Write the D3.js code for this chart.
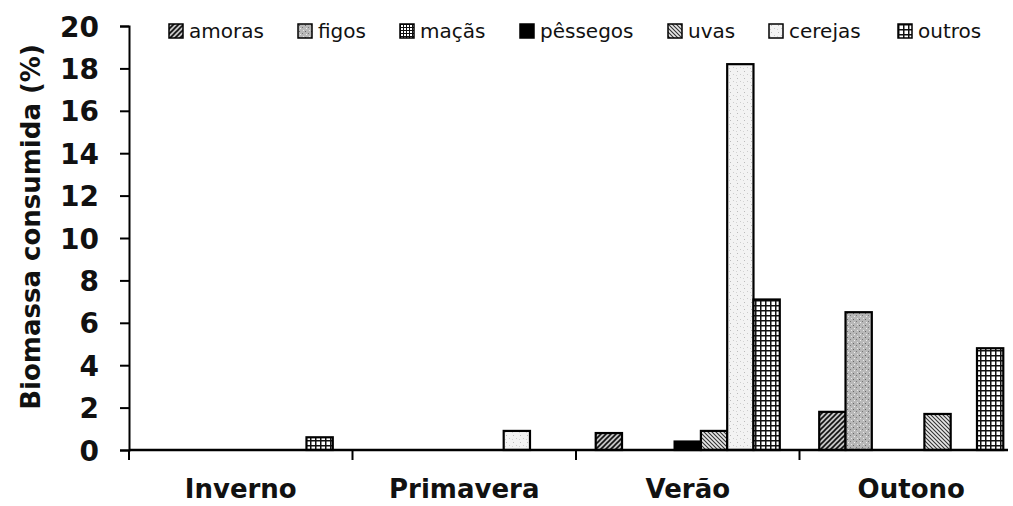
<!DOCTYPE html>
<html><head><meta charset="utf-8">
<script src="https://cdn.jsdelivr.net/npm/d3@7"></script>
<style>body{margin:0;background:#fff}svg{display:block}</style>
</head><body>
<svg id="c" width="1013" height="506"></svg>
<script>
const categories = ["Inverno","Primavera","Verão","Outono"];
const series = ["amoras","figos","maçãs","pêssegos","uvas","cerejas","outros"];
const amoras   = [0, 0, 0.8, 1.8];
const figos    = [0, 0, 0, 6.5];
const macas    = [0, 0, 0, 0];
const pessegos = [0, 0, 0.4, 0];
const uvas     = [0, 0, 0.9, 1.7];
const cerejas  = [0, 0.9, 18.2, 0];
const outros   = [0.6, 0, 7.1, 4.8];
const yTicks = [0,2,4,6,8,10,12,14,16,18,20];

const values = [amoras, figos, macas, pessegos, uvas, cerejas, outros];
const legendX = [169, 298, 400, 520, 668, 769, 898];

const svg = d3.select("#c");
const defs = svg.append("defs");

function pat(id, w, h, draw) {
  const p = defs.append("pattern").attr("id", id).attr("patternUnits","userSpaceOnUse")
    .attr("width", w).attr("height", h);
  draw(p);
}
// amoras: dark dashed diagonal
pat("p0", 5, 5, p => {
  p.append("rect").attr("width",5).attr("height",5).attr("fill","#c4c4c4");
  p.append("path").attr("d","M0,5 L5,0 M-1,1 L1,-1 M4,6 L6,4").attr("stroke","#111").attr("stroke-width",1.6);
});
// figos: grey speckle
pat("p1", 6, 6, p => {
  p.append("rect").attr("width",6).attr("height",6).attr("fill","#b8b8b8");
  p.append("rect").attr("x",1).attr("y",1).attr("width",1).attr("height",1).attr("fill","#666");
  p.append("rect").attr("x",4).attr("y",3).attr("width",1).attr("height",1).attr("fill","#777");
  p.append("rect").attr("x",2).attr("y",4).attr("width",1).attr("height",1).attr("fill","#eee");
  p.append("rect").attr("x",5).attr("y",0).attr("width",1).attr("height",1).attr("fill","#e6e6e6");
});
// maçãs: fine grid
pat("p2", 3, 3, p => {
  p.append("rect").attr("width",3).attr("height",3).attr("fill","#fff");
  p.append("path").attr("d","M0,0.5 H3 M0.5,0 V3").attr("stroke","#111").attr("stroke-width",1);
});
// uvas: back diagonal lines
pat("p4", 4, 4, p => {
  p.append("rect").attr("width",4).attr("height",4).attr("fill","#e8e8e8");
  p.append("path").attr("d","M0,0 L4,4 M-1,3 L1,5 M3,-1 L5,1").attr("stroke","#333").attr("stroke-width",1.1);
});
// cerejas: very light speckle
pat("p5", 7, 7, p => {
  p.append("rect").attr("width",7).attr("height",7).attr("fill","#f3f3f3");
  p.append("rect").attr("x",2).attr("y",1).attr("width",1).attr("height",1).attr("fill","#bbb");
  p.append("rect").attr("x",5).attr("y",4).attr("width",1).attr("height",1).attr("fill","#ccc");
  p.append("rect").attr("x",1).attr("y",5).attr("width",1).attr("height",1).attr("fill","#d4d4d4");
});
// outros: grid
pat("p6", 5, 5, p => {
  p.append("rect").attr("width",5).attr("height",5).attr("fill","#fff");
  p.append("path").attr("d","M0,0.75 H5 M0.75,0 V5").attr("stroke","#111").attr("stroke-width",1.5);
});
const fills = ["url(#p0)","url(#p1)","url(#p2)","#000","url(#p4)","url(#p5)","url(#p6)"];

const y = d3.scaleLinear().domain([0,20]).range([450,26]);
const x = d3.scaleBand().domain(categories).range([129,1023]).padding(0);
const xs = d3.scaleBand().domain(series).range([0, x.bandwidth()]).paddingInner(0).paddingOuter(0.75);

// bars
const data = [];
categories.forEach((c,i) => series.forEach((s,j) => {
  if (values[j][i] > 0) data.push({c, s, v: values[j][i], j});
}));
svg.append("g").selectAll("rect").data(data).join("rect")
  .attr("x", d => x(d.c) + xs(d.s))
  .attr("y", d => y(d.v))
  .attr("width", xs.bandwidth())
  .attr("height", d => y(0) - y(d.v))
  .attr("fill", d => fills[d.j])
  .attr("stroke","#000").attr("stroke-width",2.2);

// y axis
const yAxis = svg.append("g").attr("transform","translate(129,0)")
  .call(d3.axisLeft(y).tickValues(yTicks).tickSize(9).tickSizeOuter(9).tickPadding(21));
yAxis.select(".domain").attr("stroke-width",2);
yAxis.selectAll(".tick line").attr("stroke-width",2);
yAxis.selectAll("text").attr("font-family","DejaVu Sans").attr("font-weight","bold")
  .attr("font-size",28).attr("fill","#111").attr("dy","0.36em");

// x axis
const xAxis = svg.append("g").attr("transform","translate(0,450)")
  .call(d3.axisBottom(x).tickSize(0));
xAxis.select(".domain").attr("stroke-width",2.5).attr("d","M129,0H1008");
xAxis.selectAll("text").attr("font-family","DejaVu Sans").attr("font-weight","bold")
  .attr("font-size",26).attr("fill","#111").attr("y",48).attr("dy",0);
// category separators
xAxis.selectAll(".sep").data(categories).join("line").attr("class","sep")
  .attr("x1", d => x(d)).attr("x2", d => x(d)).attr("y1",0).attr("y2",10)
  .attr("stroke","#000").attr("stroke-width",2);

// y title
svg.append("text").attr("transform","translate(40,227) rotate(-90)")
  .attr("text-anchor","middle").attr("font-family","DejaVu Sans").attr("font-weight","bold")
  .attr("font-size",26).attr("fill","#111").text("Biomassa consumida (%)");

// legend
const lg = svg.append("g").selectAll("g").data(series).join("g")
  .attr("transform",(d,i) => `translate(${legendX[i]},24)`);
lg.append("rect").attr("width",14).attr("height",14).attr("fill",(d,i)=>fills[i])
  .attr("stroke","#000").attr("stroke-width",1.5);
lg.append("text").attr("x",20).attr("y",14).attr("font-family","DejaVu Sans")
  .attr("font-size",20).attr("fill","#111").text(d=>d);
</script>
</body></html>
